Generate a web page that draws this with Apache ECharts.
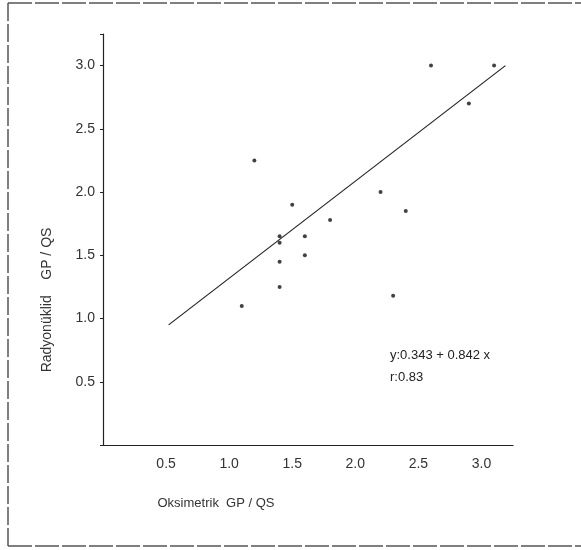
<!DOCTYPE html>
<html>
<head>
<meta charset="utf-8">
<script src="https://cdn.jsdelivr.net/npm/echarts@6/dist/echarts.min.js"></script>
<style>
  html, body { margin: 0; padding: 0; background: #fff; }
</style>
</head>
<body>
<div id="chart" style="width: 581px; height: 550px"></div>
<script>
// Oksimetrik (x) vs Radyonüklid (y) GP / QS values
const oksimetrik = [1.1, 1.2, 1.4, 1.4, 1.4, 1.4, 1.5, 1.6, 1.6, 1.8, 2.2, 2.3, 2.4, 2.6, 2.9, 3.1];
const radyonuklid = [1.1, 2.25, 1.65, 1.6, 1.45, 1.25, 1.9, 1.65, 1.5, 1.78, 2.0, 1.18, 1.85, 3.0, 2.7, 3.0];

// regression line as drawn (two endpoints)
const fitX = [0.52, 3.19];
const fitY = [0.95, 3.0];

const tickValues = [0.5, 1.0, 1.5, 2.0, 2.5, 3.0];

const chart = echarts.init(document.getElementById("chart"));

const fontFamily = "'Liberation Sans', Arial, sans-serif";
const textColor = "#333";

const option = {
    animation: false,
    backgroundColor: "#fff",
    grid: {
        left: 103,
        right: 68,
        top: 34,
        bottom: 105,
    },
    xAxis: {
        type: "value",
        min: 0,
        max: 3.25,
        interval: 0.5,
        axisLine: { lineStyle: { color: "#222", width: 1.2 } },
        axisTick: { show: false },
        splitLine: { show: false },
        axisLabel: {
            margin: 12,
            fontFamily,
            fontSize: 14,
            color: textColor,
            formatter: v => (tickValues.includes(v) ? v.toFixed(1) : ""),
        },
    },
    yAxis: {
        type: "value",
        min: 0,
        max: 3.25,
        interval: 0.5,
        axisLine: { lineStyle: { color: "#222", width: 1.2 } },
        axisTick: { show: true, length: 3, lineStyle: { color: "#222" } },
        splitLine: { show: false },
        axisLabel: {
            margin: 8,
            fontFamily,
            fontSize: 14,
            color: textColor,
            formatter: v => (tickValues.includes(v) ? v.toFixed(1) : ""),
        },
    },
    series: [
        {
            type: "scatter",
            data: oksimetrik.map((x, i) => [x, radyonuklid[i]]),
            symbolSize: 4,
            itemStyle: { color: "#111" },
        },
        {
            type: "line",
            data: fitX.map((x, i) => [x, fitY[i]]),
            symbol: "none",
            lineStyle: { color: "#222", width: 1.2 },
        },
    ],
    graphic: [
        // axis titles
        {
            type: "text",
            x: 216,
            y: 503,
            style: {
                text: "Oksimetrik  GP / QS",
                font: "13px " + fontFamily,
                fill: textColor,
                align: "center",
                verticalAlign: "middle",
            },
        },
        {
            type: "text",
            x: 47,
            y: 300,
            rotation: Math.PI / 2,
            style: {
                text: "Radyonüklid    GP / QS",
                font: "14px " + fontFamily,
                fill: textColor,
                align: "center",
                verticalAlign: "middle",
            },
        },
        // regression annotation
        {
            type: "text",
            left: 390,
            top: 349,
            style: { text: "y:0.343 + 0.842 x", font: "13px " + fontFamily, fill: "#222" },
        },
        {
            type: "text",
            left: 390,
            top: 371,
            style: { text: "r:0.83", font: "13px " + fontFamily, fill: "#222" },
        },
        // scanned page frame
        {
            type: "line",
            shape: { x1: 8, y1: 3, x2: 581, y2: 3 },
            style: { stroke: "#555", lineWidth: 1.5, lineDash: [24, 3] },
        },
        {
            type: "line",
            shape: { x1: 8, y1: 3, x2: 8, y2: 546 },
            style: { stroke: "#555", lineWidth: 1.5, lineDash: [18, 3] },
        },
        {
            type: "line",
            shape: { x1: 8, y1: 546, x2: 581, y2: 546 },
            style: { stroke: "#555", lineWidth: 1.5, lineDash: [24, 3] },
        },
    ],
};

chart.setOption(option);
</script>
</body>
</html>
